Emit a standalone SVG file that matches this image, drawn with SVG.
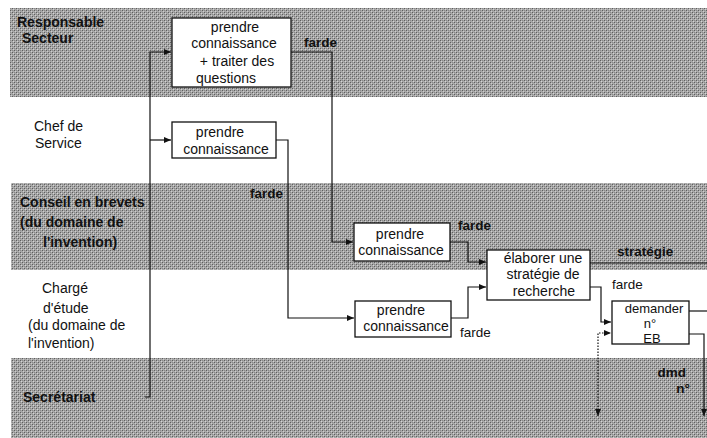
<svg xmlns="http://www.w3.org/2000/svg" width="707" height="438" viewBox="0 0 707 438">
<defs>
<pattern id="dither" width="4" height="4" patternUnits="userSpaceOnUse">
<rect width="4" height="4" fill="#a8a8a8"/>
<rect x="0" y="0" width="1" height="1" fill="#5e5e5e"/>
<rect x="2" y="2" width="1" height="1" fill="#5e5e5e"/>
<rect x="2" y="0" width="1" height="1" fill="#8a8a8a"/>
<rect x="0" y="2" width="1" height="1" fill="#8a8a8a"/>
<rect x="1" y="1" width="1" height="1" fill="#d4d4d4"/>
<rect x="3" y="3" width="1" height="1" fill="#cccccc"/>
</pattern>
<marker id="arr" markerWidth="8" markerHeight="6" refX="7" refY="3" orient="auto" markerUnits="userSpaceOnUse">
<path d="M0,0 L7,3 L0,6 z" fill="#111"/>
</marker>
<marker id="arrs" markerWidth="8" markerHeight="6" refX="7" refY="3" orient="auto-start-reverse" markerUnits="userSpaceOnUse">
<path d="M0,0 L7,3 L0,6 z" fill="#111"/>
</marker>
</defs>
<style>
.lane{font-family:"Liberation Sans",Arial,sans-serif;font-size:14px;fill:#111}
.b{font-weight:bold}
.box{fill:#fff;stroke:#111;stroke-width:1.3}
.bt{font-family:"Liberation Sans",Arial,sans-serif;font-size:14px;fill:#111;text-anchor:middle}
.sm{font-size:13px}
.lbl{font-family:"Liberation Sans",Arial,sans-serif;font-size:13.5px;fill:#111}
.c{fill:none;stroke:#111;stroke-width:1.2}
.dot{fill:none;stroke:#111;stroke-width:1.2;stroke-dasharray:1.5 1.5}
</style>
<rect width="707" height="438" fill="#fff"/>
<g id="bands">
<rect x="10" y="8" width="697" height="89" fill="url(#dither)"/>
<rect x="11" y="183" width="696" height="87" fill="url(#dither)"/>
<rect x="11" y="358" width="696" height="80" fill="url(#dither)"/>
</g>
<g id="lanes">
<text class="lane b" x="17" y="27">Responsable</text>
<text class="lane b" x="22" y="43">Secteur</text>
<text class="lane" x="34" y="131">Chef de</text>
<text class="lane" x="35" y="148">Service</text>
<text class="lane b" x="20" y="207">Conseil en brevets</text>
<text class="lane b" x="20" y="227">(du domaine de</text>
<text class="lane b" x="43" y="247">l'invention)</text>
<text class="lane" x="42" y="293">Chargé</text>
<text class="lane" x="43" y="313">d'étude</text>
<text class="lane" x="28" y="330">(du domaine de</text>
<text class="lane" x="28" y="348">l'invention)</text>
<text class="lane b" x="23" y="402">Secrétariat</text>
</g>
<g id="connectors">
<path class="c" d="M145,397 H150 V52 H171" marker-end="url(#arr)"/>
<path class="c" d="M150,140 H171" marker-end="url(#arr)"/>
<path class="c" d="M291,52 H332 V242 H353" marker-end="url(#arr)"/>
<path class="c" d="M276,140 H288 V318 H354" marker-end="url(#arr)"/>
<path class="c" d="M450,242 H468 V262 H486" marker-end="url(#arr)"/>
<path class="c" d="M451,318 H468 V287 H486" marker-end="url(#arr)"/>
<path class="c" d="M590,263 H707"/>
<path class="c" d="M590,287 H601 V322 H611" marker-end="url(#arr)"/>
<path class="c" d="M689,311 H707"/>
<path class="c" d="M689,334 H704 V416" marker-end="url(#arr)"/>
<path class="dot" d="M598,416 V333 H611" marker-start="url(#arrs)" marker-end="url(#arr)"/>
<text class="lbl b" x="304" y="47">farde</text>
<text class="lbl b" x="250" y="198">farde</text>
<text class="lbl b" x="458" y="230">farde</text>
<text class="lbl" x="460" y="337">farde</text>
<text class="lbl b" x="617" y="256">stratégie</text>
<text class="lbl" x="612" y="289">farde</text>
<text class="lbl b" x="686" y="377" text-anchor="end">dmd</text>
<text class="lbl b" x="690" y="393" text-anchor="end">n°</text>
</g>
<g id="n1">
<rect class="box" x="172" y="18" width="119" height="69"/>
<text class="bt" x="235" y="32">prendre</text>
<text class="bt" x="234" y="48">connaissance</text>
<text class="bt" x="237" y="66">+ traiter des</text>
<text class="bt" x="226" y="83">questions</text>
</g>
<g id="n2">
<rect class="box" x="172" y="122" width="104" height="36"/>
<text class="bt" x="220" y="137">prendre</text>
<text class="bt" x="226" y="154">connaissance</text>
</g>
<g id="n3">
<rect class="box" x="354" y="223" width="96" height="38"/>
<text class="bt" x="400" y="239">prendre</text>
<text class="bt" x="401" y="255">connaissance</text>
</g>
<g id="n4">
<rect class="box" x="355" y="301" width="96" height="36"/>
<text class="bt" x="401" y="315">prendre</text>
<text class="bt" x="406" y="331">connaissance</text>
</g>
<g id="n5">
<rect class="box" x="487" y="250" width="103" height="50"/>
<text class="bt" x="543" y="263">élaborer une</text>
<text class="bt" x="543" y="279">stratégie de</text>
<text class="bt" x="544" y="296">recherche</text>
</g>
<g id="n6">
<rect class="box" x="612" y="301" width="77" height="43"/>
<text class="bt sm" x="654" y="313">demander</text>
<text class="bt sm" x="650" y="328">n°</text>
<text class="bt sm" x="652" y="343">EB</text>
</g>
</svg>
